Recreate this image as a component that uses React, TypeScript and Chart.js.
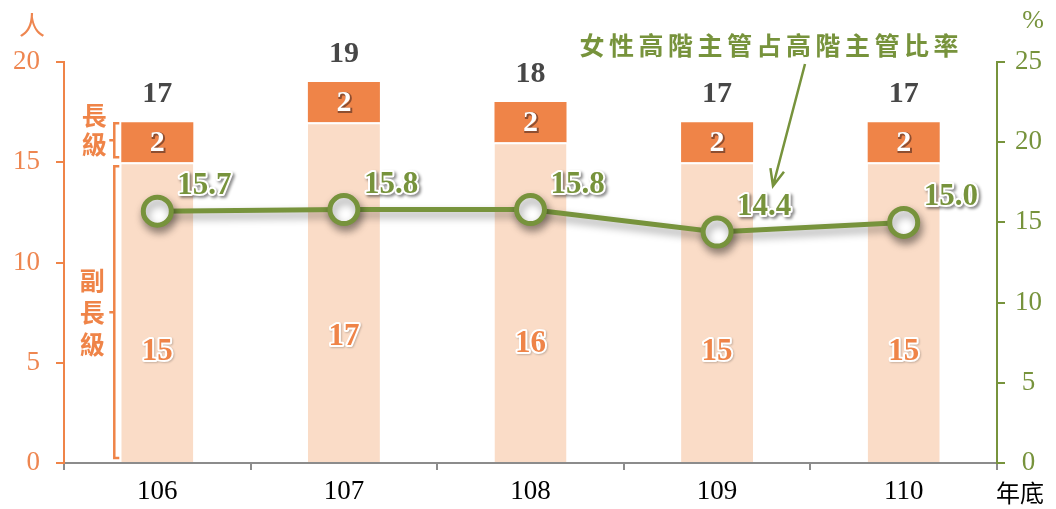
import React, { useEffect, useRef } from 'react';
import { Chart, registerables } from 'chart.js';

Chart.register(...registerables);

const years = ['106', '107', '108', '109', '110'];
const deputyLevel = [15, 17, 16, 15, 15];
const chiefLevel = [2, 2, 2, 2, 2];
const femaleShare = [15.7, 15.8, 15.8, 14.4, 15.0];
const leftAxisUnit = '人';
const rightAxisUnit = '%';
const xAxisUnit = '年底';
const annotationText = '女性高階主管占高階主管比率';
const chiefLabel = ['長', '級'];
const deputyLabel = ['副', '長', '級'];

const ORANGE = '#EF8448';
const LIGHT = '#FADCC7';
const TICK_ORANGE = '#EE8650';
const GREEN = '#77933C';
const SERIF = '"Liberation Serif", "Times New Roman", serif';
const CJK = '"Noto Sans CJK TC", "Noto Sans CJK SC", sans-serif';

const overlay = {
  id: 'overlay',
  beforeDatasetDraw(chart: any, args: any) {
    if (args.index === 2) {
      const c = chart.ctx;
      c.save();
      c.shadowColor = 'rgba(0,0,0,0.4)';
      c.shadowBlur = 8;
      c.shadowOffsetX = 2;
      c.shadowOffsetY = 5;
    }
  },
  afterDatasetDraw(chart: any, args: any) {
    if (args.index === 2) chart.ctx.restore();
  },
  afterDraw(chart: any) {
    const ctx = chart.ctx as CanvasRenderingContext2D;
    const y = chart.scales.y;
    const lowMeta = chart.getDatasetMeta(0).data;
    const topMeta = chart.getDatasetMeta(1).data;
    const lineMeta = chart.getDatasetMeta(2).data;

    ctx.save();
    // totals
    ctx.textAlign = 'center';
    ctx.textBaseline = 'middle';
    ctx.font = `bold 30px ${SERIF}`;
    ctx.fillStyle = '#474747';
    topMeta.forEach((el: any, i: number) => {
      const total = deputyLevel[i] + chiefLevel[i];
      ctx.fillText(String(total), el.x, el.y - 28);
    });

    // chief labels (white, outlined)
    ctx.font = `bold 30px ${SERIF}`;
    topMeta.forEach((el: any, i: number) => {
      const cy = (el.y + el.base) / 2 + 1;
      ctx.save();
      ctx.lineWidth = 2;
      ctx.strokeStyle = 'rgba(110,60,40,0.75)';
      ctx.strokeText(String(chiefLevel[i]), el.x + 1, cy + 1);
      ctx.fillStyle = '#FFFFFF';
      ctx.fillText(String(chiefLevel[i]), el.x, cy);
      ctx.restore();
    });

    // deputy labels (orange with white outline)
    ctx.font = `bold 31px ${SERIF}`;
    lowMeta.forEach((el: any, i: number) => {
      const cy = y.getPixelForValue(deputyLevel[i] * 0.37);
      ctx.save();
      ctx.shadowColor = 'rgba(0,0,0,0.2)';
      ctx.shadowBlur = 2;
      ctx.shadowOffsetX = 1;
      ctx.shadowOffsetY = 1;
      ctx.lineWidth = 4;
      ctx.strokeStyle = '#FFFFFF';
      ctx.lineJoin = 'round';
      ctx.strokeText(String(deputyLevel[i]), el.x, cy);
      ctx.restore();
      ctx.fillStyle = ORANGE;
      ctx.fillText(String(deputyLevel[i]), el.x, cy);
    });

    // line labels
    ctx.textAlign = 'left';
    ctx.font = `bold 31px ${SERIF}`;
    lineMeta.forEach((el: any, i: number) => {
      const t = femaleShare[i].toFixed(1);
      const lx = el.x + 20;
      const ly = el.y - 25;
      ctx.save();
      ctx.shadowColor = 'rgba(0,0,0,0.45)';
      ctx.shadowBlur = 3;
      ctx.shadowOffsetX = 2;
      ctx.shadowOffsetY = 2;
      ctx.lineWidth = 4;
      ctx.lineJoin = 'round';
      ctx.strokeStyle = '#FFFFFF';
      ctx.strokeText(t, lx, ly);
      ctx.restore();
      ctx.fillStyle = GREEN;
      ctx.fillText(t, lx, ly);
    });

    // axis units
    ctx.textAlign = 'center';
    ctx.font = `26px ${CJK}`;
    ctx.fillStyle = TICK_ORANGE;
    ctx.fillText(leftAxisUnit, 32, 25);
    ctx.font = `26px ${SERIF}`;
    ctx.fillStyle = GREEN;
    ctx.fillText(rightAxisUnit, 1033, 21);
    ctx.font = `24px ${CJK}`;
    ctx.fillStyle = '#000000';
    ctx.fillText(xAxisUnit, 1020, 493);

    // brackets
    const bx = lowMeta[0].x - lowMeta[0].width / 2 - 7;
    const drawBracket = (top: number, bottom: number) => {
      ctx.beginPath();
      ctx.moveTo(bx + 5, top);
      ctx.lineTo(bx, top);
      ctx.lineTo(bx, bottom);
      ctx.lineTo(bx + 5, bottom);
      const mid = (top + bottom) / 2;
      ctx.moveTo(bx, mid);
      ctx.lineTo(bx - 5, mid);
      ctx.stroke();
      return mid;
    };
    ctx.strokeStyle = ORANGE;
    ctx.lineWidth = 2.5;
    const m1 = drawBracket(
      y.getPixelForValue(deputyLevel[0] + chiefLevel[0]) + 1,
      y.getPixelForValue(deputyLevel[0]) - 5
    );
    const m2 = drawBracket(y.getPixelForValue(deputyLevel[0]) + 4, y.getPixelForValue(0) - 5);
    ctx.font = `bold 25px ${CJK}`;
    ctx.fillStyle = ORANGE;
    chiefLabel.forEach((ch, k) => {
      ctx.fillText(ch, bx - 20, m1 - 10 + (k - 0.5) * 29);
    });
    deputyLabel.forEach((ch, k) => {
      ctx.fillText(ch, bx - 22, m2 + (k - 1) * 32);
    });

    // annotation
    ctx.font = `bold 25px ${CJK}`;
    ctx.fillStyle = GREEN;
    const chars = Array.from(annotationText);
    chars.forEach((ch, k) => {
      ctx.fillText(ch, 592 + k * 29.5, 45);
    });
    const sx = 805, sy = 64, tx = 773, ty = 186;
    ctx.strokeStyle = GREEN;
    ctx.lineWidth = 2.5;
    ctx.beginPath();
    ctx.moveTo(sx, sy);
    ctx.lineTo(tx, ty);
    const ang = Math.atan2(ty - sy, tx - sx);
    const hl = 18;
    ctx.moveTo(tx + hl * Math.cos(ang + Math.PI - 0.4), ty + hl * Math.sin(ang + Math.PI - 0.4));
    ctx.lineTo(tx, ty);
    ctx.lineTo(tx + hl * Math.cos(ang + Math.PI + 0.4), ty + hl * Math.sin(ang + Math.PI + 0.4));
    ctx.stroke();

    ctx.restore();
  },
};

export default function App() {
  const ref = useRef<HTMLCanvasElement | null>(null);
  useEffect(() => {
    document.body.style.margin = '0';
    const canvas = ref.current;
    if (!canvas) return;
    const chart = new Chart(canvas, {
      type: 'bar',
      data: {
        labels: years,
        datasets: [
          {
            type: 'bar',
            data: deputyLevel,
            backgroundColor: LIGHT,
            borderColor: '#FFFFFF',
            borderWidth: { top: 2, left: 0, right: 0, bottom: 0 },
            borderSkipped: false,
            yAxisID: 'y',
            order: 2,
          },
          {
            type: 'bar',
            data: chiefLevel,
            backgroundColor: ORANGE,
            borderWidth: 0,
            yAxisID: 'y',
            order: 2,
          },
          {
            type: 'line',
            data: femaleShare,
            yAxisID: 'y1',
            borderColor: GREEN,
            borderWidth: 5,
            pointRadius: 14,
            pointBorderWidth: 5,
            pointBackgroundColor: '#FFFFFF',
            pointBorderColor: GREEN,
            order: 0,
          },
        ] as any,
      },
      options: {
        responsive: false,
        animation: false,
        layout: { padding: { top: 62, left: 0, right: 0, bottom: 0 } },
        plugins: { legend: { display: false }, tooltip: { enabled: false } },
        datasets: { bar: { barPercentage: 0.386, categoryPercentage: 1 } },
        scales: {
          x: {
            stacked: true,
            afterFit: (s: any) => { s.height = 46; },
            grid: { drawOnChartArea: false, drawTicks: true, tickLength: 7, color: '#8C8C8C', lineWidth: 2, offset: true },
            border: { color: '#8C8C8C', width: 2 },
            ticks: { color: '#000000', font: { family: SERIF, size: 27 }, padding: 6 },
          },
          y: {
            stacked: true,
            min: 0,
            max: 20,
            afterFit: (s: any) => { s.width = 64; },
            ticks: { stepSize: 5, color: TICK_ORANGE, font: { family: SERIF, size: 27 }, padding: 16 },
            grid: { drawOnChartArea: false, drawTicks: true, tickLength: 8, color: ORANGE, lineWidth: 2 },
            border: { color: ORANGE, width: 2 },
          },
          y1: {
            position: 'right',
            min: 0,
            max: 25,
            afterFit: (s: any) => { s.width = 59; },
            ticks: { stepSize: 5, color: GREEN, font: { family: SERIF, size: 27 }, padding: 10, crossAlign: 'center' },
            grid: { drawOnChartArea: false, drawTicks: true, tickLength: 8, color: GREEN, lineWidth: 2 },
            border: { color: GREEN, width: 2 },
          },
        },
      } as any,
      plugins: [overlay],
    });
    return () => chart.destroy();
  }, []);
  return (
    <div style={{ width: 1056, height: 509 }}>
      <canvas ref={ref} width={1056} height={509} style={{ display: 'block' }} />
    </div>
  );
}
